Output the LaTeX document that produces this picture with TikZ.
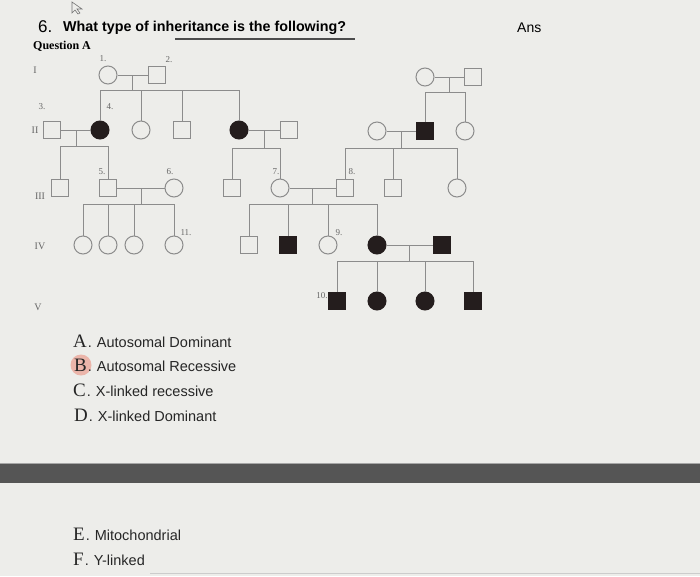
\documentclass[tikz,border=0pt]{standalone}
\usepackage{fontspec}
\setmainfont{Liberation Serif}
\setsansfont{Liberation Sans}
\usetikzlibrary{calc}
\definecolor{paper}{HTML}{EDEDEA}
\definecolor{pedline}{HTML}{8C8C8C}
\definecolor{affect}{HTML}{241D1D}
\definecolor{barcol}{HTML}{555555}
\definecolor{hilite}{HTML}{EBB5AA}
\tikzset{
  person/.style={draw=pedline, line width=1pt, fill=paper, inner sep=0pt},
  male/.style={person, rectangle, minimum size=17pt},
  female/.style={person, circle, minimum size=18pt},
  aff/.style={fill=affect, draw=affect},
  lnk/.style={draw=pedline, line width=1pt},
  num/.style={font=\fontsize{9}{10}\selectfont, text=black!60, inner sep=0pt},
  gen/.style={font=\fontsize{10}{11}\selectfont, text=black!60, inner sep=0pt},
  opt/.style={anchor=base west, inner sep=0pt, font=\sffamily\fontsize{14.5}{16}\selectfont, text=black!85},
}
\newcommand{\optletter}[1]{{\rmfamily\fontsize{19}{20}\selectfont #1}\hspace{1pt}.\hspace{5pt}}
\begin{document}
\begin{tikzpicture}[x=1pt, y=-1pt]
    \useasboundingbox (0,0) rectangle (700,576);
    \fill[paper] (0,0) rectangle (700,576);

    % header
    \draw[black!55, line width=0.6pt] (72,2) -- (72,13) -- (75,10) -- (78,14) -- (80,13) -- (77,9) -- (82,9) -- cycle;
    \node[anchor=base west, inner sep=0pt, font=\sffamily\fontsize{17}{18}\selectfont] (qnum) at (38,32) {6.};
    \node[anchor=base west, inner sep=0pt, font=\sffamily\bfseries\fontsize{14.3}{16}\selectfont] (title) at (63,31) {What type of inheritance is the following?};
    \draw[black!70, line width=1.2pt] (175,39) -- (355,39);
    \node[anchor=base west, inner sep=0pt, font=\bfseries\fontsize{12}{13}\selectfont] (qa) at (33,49) {Question A};
    \node[anchor=base west, inner sep=0pt, font=\sffamily\fontsize{14}{16}\selectfont] (ans) at (517,32) {Ans};

    % generation labels
    \node[gen] (g1) at (35,70) {I};
    \node[gen] (g2) at (35,130) {II};
    \node[gen] (g3) at (40,196) {III};
    \node[gen] (g4) at (40,246) {IV};
    \node[gen] (g5) at (38,307) {V};

    % generation I
    \node[female] (i1) at (108,75) {};
    \node[male] (i2) at (157,75) {};
    \node[female] (ra) at (425,77) {};
    \node[male] (rb) at (473,77) {};

    % generation II
    \node[male] (i3) at (52,130) {};
    \node[female, aff] (i4) at (100,130) {};
    \node[female] (ii2) at (141,130) {};
    \node[male] (ii3) at (182,130) {};
    \node[female, aff] (ii4) at (239,130) {};
    \node[male] (ii5) at (289,130) {};
    \node[female] (ii6) at (377,131) {};
    \node[male, aff] (ii7) at (425,131) {};
    \node[female] (ii8) at (465,131) {};

    % generation III
    \node[male] (iii1) at (60,188) {};
    \node[male] (i5) at (108,188) {};
    \node[female] (i6) at (174,188) {};
    \node[male] (iii4) at (232,188) {};
    \node[female] (i7) at (280,188) {};
    \node[male] (i8) at (345,188) {};
    \node[male] (iii7) at (393,188) {};
    \node[female] (iii8) at (457,188) {};

    % generation IV
    \node[female] (iv1) at (83,245) {};
    \node[female] (iv2) at (108,245) {};
    \node[female] (iv3) at (134,245) {};
    \node[female] (i11) at (174,245) {};
    \node[male] (iv5) at (249,245) {};
    \node[male, aff] (iv6) at (288,245) {};
    \node[female] (i9) at (328,245) {};
    \node[female, aff] (iv8) at (377,245) {};
    \node[male, aff] (iv9) at (442,245) {};

    % generation V
    \node[male, aff] (i10) at (337,301) {};
    \node[female, aff] (v2) at (377,301) {};
    \node[female, aff] (v3) at (425,301) {};
    \node[male, aff] (v4) at (473,301) {};

    % numbers
    \node[num] at ($(i1)+(-5,-16)$) {1.};
    \node[num] at ($(i2)+(12,-15)$) {2.};
    \node[num] at ($(i3)+(-10,-23)$) {3.};
    \node[num] at ($(i4)+(10,-23)$) {4.};
    \node[num] at ($(i5)+(-6,-16)$) {5.};
    \node[num] at ($(i6)+(-4,-16)$) {6.};
    \node[num] at ($(i7)+(-4,-16)$) {7.};
    \node[num] at ($(i8)+(7,-16)$) {8.};
    \node[num] at ($(i9)+(11,-12)$) {9.};
    \node[num] at ($(i10)+(-15,-5)$) {10.};
    \node[num] at ($(i11)+(12,-12)$) {11.};

    % matings and sibships
    \draw[lnk] (i1) -- (i2);
    \draw[lnk] ($(i1)!0.5!(i2)$) -- ++(0,15) coordinate (s12);
    \draw[lnk] (i4) -- (i4 |- s12) -- (ii4 |- s12) -- (ii4);
    \foreach \c in {ii2, ii3} \draw[lnk] (\c |- s12) -- (\c);

    \draw[lnk] (ra) -- (rb);
    \draw[lnk] ($(ra)!0.5!(rb)$) -- ++(0,15) coordinate (sab);
    \draw[lnk] (ii7) -- (ii7 |- sab) -- (ii8 |- sab) -- (ii8);

    \draw[lnk] (i3) -- (i4);
    \draw[lnk] ($(i3)!0.5!(i4)$) -- ++(0,16) coordinate (s34);
    \draw[lnk] (iii1) -- (iii1 |- s34) -- (i5 |- s34) -- (i5);

    \draw[lnk] (ii4) -- (ii5);
    \draw[lnk] ($(ii4)!0.5!(ii5)$) -- ++(0,18) coordinate (s45);
    \draw[lnk] (iii4) -- (iii4 |- s45) -- (i7 |- s45) -- (i7);

    \draw[lnk] (ii6) -- (ii7);
    \draw[lnk] ($(ii6)!0.5!(ii7)$) -- ++(0,17) coordinate (s67);
    \draw[lnk] (i8) -- (i8 |- s67) -- (iii8 |- s67) -- (iii8);
    \draw[lnk] (iii7 |- s67) -- (iii7);

    \draw[lnk] (i5) -- (i6);
    \draw[lnk] ($(i5)!0.5!(i6)$) -- ++(0,16) coordinate (s56);
    \draw[lnk] (iv1) -- (iv1 |- s56) -- (i11 |- s56) -- (i11);
    \foreach \c in {iv2, iv3} \draw[lnk] (\c |- s56) -- (\c);

    \draw[lnk] (i7) -- (i8);
    \draw[lnk] ($(i7)!0.5!(i8)$) -- ++(0,16) coordinate (s78);
    \draw[lnk] (iv5) -- (iv5 |- s78) -- (iv8 |- s78) -- (iv8);
    \foreach \c in {iv6, i9} \draw[lnk] (\c |- s78) -- (\c);

    \draw[lnk] (iv8) -- (iv9);
    \draw[lnk] ($(iv8)!0.5!(iv9)$) -- ++(0,16) coordinate (s89);
    \draw[lnk] (i10) -- (i10 |- s89) -- (v4 |- s89) -- (v4);
    \foreach \c in {v2, v3} \draw[lnk] (\c |- s89) -- (\c);

    % answer options
    \fill[hilite] (81,365) circle (10.5);
    \node[opt] (oa) at (73,347) {\optletter{A}Autosomal Dominant};
    \node[opt] (ob) at (74,371) {\optletter{B}Autosomal Recessive};
    \node[opt] (oc) at (73,396) {\optletter{C}X-linked recessive};
    \node[opt] (od) at (74,421) {\optletter{D}X-linked Dominant};

    % divider bar
    \fill[barcol] (0,463) rectangle (700,483);
    \draw[black!35, line width=1pt] (0,463) -- (700,463);

    \node[opt] (oe) at (73,540) {\optletter{E}Mitochondrial};
    \node[opt] (of) at (73,565) {\optletter{F}Y-linked};
    \draw[black!20, line width=0.8pt] (150,573) -- (700,573);
\end{tikzpicture}
\end{document}
